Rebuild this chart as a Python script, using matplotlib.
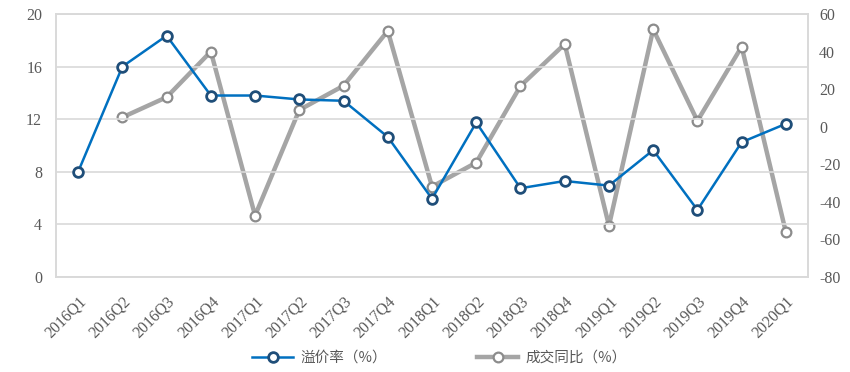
import matplotlib
matplotlib.use("Agg")
import matplotlib.pyplot as plt
import numpy as np

plt.rcParams["axes.unicode_minus"] = False

quarters = ["2016Q1", "2016Q2", "2016Q3", "2016Q4",
            "2017Q1", "2017Q2", "2017Q3", "2017Q4",
            "2018Q1", "2018Q2", "2018Q3", "2018Q4",
            "2019Q1", "2019Q2", "2019Q3", "2019Q4", "2020Q1"]
premium = [8.0, 16.0, 18.35, 13.8, 13.8, 13.5, 13.4, 10.65,
           5.95, 11.75, 6.75, 7.3, 6.95, 9.65, 5.1, 10.25, 11.65]
volume_yoy = [np.nan, 5.0, 15.7, 40.0, -47.3, 8.9, 21.8, 51.0,
              -31.9, -19.1, 21.7, 44.0, -52.7, 51.8, 3.1, 42.6, -56.2]

blue = "#0070C0"
navy = "#1F4E79"
grey = "#A5A5A5"
text_c = "#595959"
grid_c = "#D9D9D9"
serif = ["Liberation Serif", "DejaVu Serif"]
cjk = ["Noto Sans CJK SC", "DejaVu Sans"]

fig = plt.figure(figsize=(8.5, 3.72), dpi=100)
ax = fig.add_axes([0.0659, 0.2554, 0.8847, 0.7070])
ax2 = ax.twinx()

x = np.arange(len(quarters))
l2, = ax2.plot(x, volume_yoy, color=grey, lw=3.2, marker="o", ms=7,
               mfc="white", mec="#8C8C8C", mew=1.6, label="成交同比（%）", zorder=2)
l1, = ax.plot(x, premium, color=blue, lw=1.8, marker="o", ms=7,
              mfc="white", mec=navy, mew=2.0, label="溢价率（%）", zorder=3)
ax.set_zorder(ax2.get_zorder() + 1)
ax.patch.set_visible(False)

ax.set_xlim(-0.5, len(quarters) - 0.5)
ax.set_ylim(0, 20)
ax.set_yticks(np.arange(0, 21, 4))
ax2.set_ylim(-80, 60)
ax2.set_yticks(np.arange(-80, 61, 20))
ax.yaxis.grid(True, color=grid_c, lw=1.2)
ax.set_axisbelow(True)

ax.set_xticks(x)
ax.set_xticklabels(quarters, rotation=45, ha="right", rotation_mode="anchor",
                   family=serif, color=text_c, fontsize=12.5)
for a in (ax, ax2):
    a.tick_params(length=0, labelcolor=text_c, labelsize=11.5)
    for s in a.spines.values():
        s.set_color(grid_c)
        s.set_linewidth(1.2)
    for lab in a.get_yticklabels():
        lab.set_family(serif)
ax.tick_params(axis="y", pad=10)
ax2.tick_params(axis="y", pad=8)
ax.tick_params(axis="x", pad=12)

fig.legend(handles=[l1, l2], loc="center", bbox_to_anchor=(0.517, 0.038), ncol=2,
           frameon=False, prop={"family": cjk, "size": 10.5}, labelcolor=text_c,
           columnspacing=6.2, handlelength=2.8, handletextpad=0.5)

fig.savefig("out.png", dpi=100)
